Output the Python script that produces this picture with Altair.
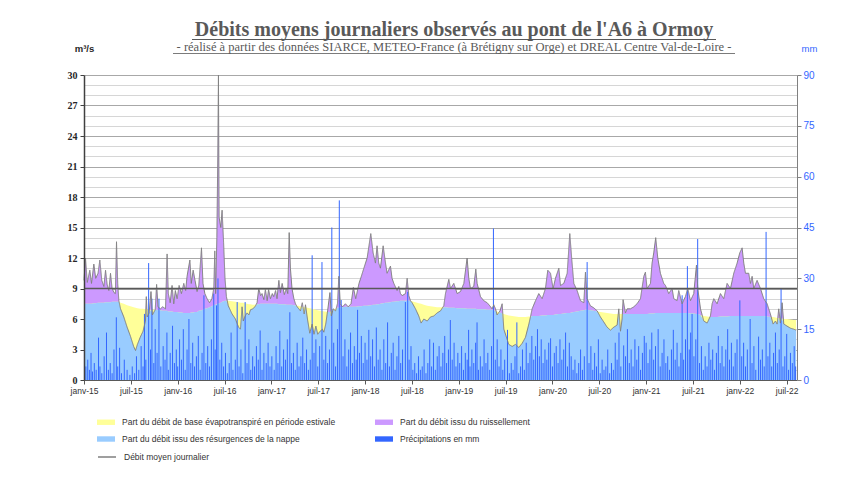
import altair as alt
import pandas as pd

# ---------------- data ----------------
# time as decimal year, flow in m3/s
T = [
    2015.000, 2015.016, 2015.035, 2015.062, 2015.080, 2015.105, 2015.125, 2015.150, 2015.169, 2015.190,
    2015.212, 2015.230, 2015.247, 2015.265, 2015.283, 2015.300, 2015.320, 2015.335, 2015.347, 2015.360,
    2015.372, 2015.390, 2015.425, 2015.460, 2015.496, 2015.530, 2015.550, 2015.570, 2015.600, 2015.630,
    2015.656, 2015.665, 2015.675, 2015.695, 2015.715, 2015.730, 2015.760, 2015.775, 2015.790, 2015.815,
    2015.840, 2015.870, 2015.887, 2015.900, 2015.920, 2015.940, 2015.958, 2015.975, 2015.994,
    2016.015, 2016.040, 2016.065, 2016.085, 2016.100, 2016.130, 2016.145, 2016.165, 2016.185, 2016.207,
    2016.225, 2016.254, 2016.270, 2016.290, 2016.314, 2016.340, 2016.365, 2016.385, 2016.396, 2016.405,
    2016.418, 2016.428, 2016.435, 2016.442, 2016.460, 2016.474, 2016.490, 2016.505, 2016.520, 2016.540,
    2016.580, 2016.616, 2016.650, 2016.670, 2016.687, 2016.700, 2016.720, 2016.740, 2016.760, 2016.776,
    2016.800, 2016.825, 2016.847, 2016.865, 2016.885, 2016.900, 2016.920, 2016.936, 2016.955, 2016.970,
    2016.990,
    2017.010, 2017.025, 2017.045, 2017.060, 2017.080, 2017.096, 2017.115, 2017.138, 2017.160, 2017.175,
    2017.190, 2017.203, 2017.220, 2017.240, 2017.257, 2017.275, 2017.293, 2017.310, 2017.330, 2017.350,
    2017.364, 2017.385, 2017.410, 2017.435, 2017.455, 2017.475, 2017.495, 2017.520, 2017.545, 2017.560,
    2017.580, 2017.600, 2017.625, 2017.640, 2017.660, 2017.685, 2017.705, 2017.720, 2017.735, 2017.760,
    2017.790, 2017.820, 2017.850, 2017.875, 2017.900, 2017.935, 2017.960, 2017.987,
    2018.022, 2018.061, 2018.086, 2018.111, 2018.128, 2018.146, 2018.164, 2018.193, 2018.218, 2018.235,
    2018.271, 2018.288, 2018.307, 2018.342, 2018.360, 2018.378, 2018.396, 2018.431, 2018.449, 2018.467,
    2018.484, 2018.502, 2018.538, 2018.573, 2018.598, 2018.627, 2018.663, 2018.698, 2018.734, 2018.769,
    2018.805, 2018.840, 2018.858, 2018.894, 2018.912, 2018.947, 2018.983,
    2019.018, 2019.054, 2019.089, 2019.107, 2019.125, 2019.160, 2019.182, 2019.196, 2019.232, 2019.267,
    2019.303, 2019.331, 2019.356, 2019.374, 2019.392, 2019.409, 2019.440, 2019.463, 2019.481, 2019.516,
    2019.534, 2019.570, 2019.605, 2019.641, 2019.676, 2019.712, 2019.748, 2019.765, 2019.783, 2019.819,
    2019.854, 2019.890, 2019.925, 2019.950, 2019.979,
    2020.007, 2020.032, 2020.068, 2020.086, 2020.121, 2020.157, 2020.185, 2020.205, 2020.228, 2020.263,
    2020.299, 2020.335, 2020.352, 2020.370, 2020.405, 2020.441, 2020.477, 2020.512, 2020.548, 2020.583,
    2020.619, 2020.655, 2020.690, 2020.708, 2020.726, 2020.743, 2020.754, 2020.779, 2020.797, 2020.832,
    2020.868, 2020.903, 2020.939, 2020.975, 2020.992,
    2021.010, 2021.046, 2021.063, 2021.081, 2021.102, 2021.124, 2021.152, 2021.188, 2021.206, 2021.241,
    2021.277, 2021.295, 2021.330, 2021.348, 2021.384, 2021.419, 2021.444, 2021.473, 2021.508, 2021.537,
    2021.551, 2021.580, 2021.615, 2021.651, 2021.686, 2021.704, 2021.722, 2021.757, 2021.793, 2021.828,
    2021.864, 2021.900, 2021.935, 2021.971, 2021.999,
    2022.024, 2022.042, 2022.060, 2022.095, 2022.113, 2022.131, 2022.149, 2022.184, 2022.220, 2022.255,
    2022.291, 2022.326, 2022.355, 2022.380, 2022.398, 2022.415, 2022.433, 2022.451, 2022.469, 2022.504,
    2022.540, 2022.575, 2022.600,
]

# daily mean flow (grey line), m3/s
Q = [
    9.8, 12.0, 9.6, 10.8, 9.5, 11.4, 10.0, 10.5, 11.8, 9.8,
    9.2, 10.8, 9.4, 8.8, 10.5, 9.0, 8.6, 8.5, 13.6, 9.5,
    7.8, 7.0, 6.2, 5.2, 4.3, 3.3, 2.9, 3.5, 4.2, 4.8,
    5.8, 8.2, 6.2, 6.6, 8.7, 6.4, 6.9, 9.4, 7.2, 7.0,
    7.2, 7.0, 12.4, 8.5, 7.6, 9.3, 7.5, 8.8, 8.0,
    9.3, 8.5, 9.5, 8.8, 10.2, 11.8, 9.5, 10.8, 9.8, 8.7,
    9.3, 13.0, 9.5, 8.5, 8.0, 7.6, 8.0, 9.0, 12.7, 8.5,
    14.0, 22.0, 30.0, 16.0, 15.0, 16.7, 13.5, 10.0, 8.2, 7.3,
    6.5, 6.0, 5.2, 5.0, 7.2, 5.8, 6.3, 6.6, 6.4, 6.9,
    7.0, 7.2, 7.6, 9.0, 8.3, 8.5, 7.9, 8.9, 7.8, 8.9,
    8.0,
    8.5, 8.2, 8.8, 8.0, 9.8, 8.6, 9.5, 8.4, 9.0, 8.5,
    14.5, 11.0, 9.0, 8.0, 7.5, 7.2, 7.0, 6.8, 7.6, 6.5,
    7.4, 6.0, 4.6, 5.5, 4.5, 5.3, 4.5, 4.8, 5.0, 4.7,
    5.5, 6.8, 8.6, 6.3, 7.0, 6.8, 7.5, 10.2, 7.5, 7.2,
    7.5, 7.2, 7.5, 9.1, 8.0, 9.5, 10.2, 11.0,
    12.0, 14.4, 12.5, 11.5, 13.2, 11.5, 11.0, 13.2, 11.5, 10.5,
    11.2, 10.0, 9.5, 8.8, 9.2, 8.5, 8.3, 8.5, 10.0, 8.3,
    7.8, 7.6, 7.0, 6.3, 5.6, 6.0, 5.8, 6.2, 6.3, 6.6,
    6.8, 7.3, 8.5, 9.9, 9.0, 9.5, 8.5,
    8.7, 9.5, 12.0, 10.0, 9.0, 9.2, 10.9, 9.5, 8.2, 7.8,
    7.6, 7.3, 7.0, 7.4, 7.0, 6.4, 6.8, 7.5, 5.0, 4.0,
    3.5, 3.3, 3.5, 3.2, 3.6, 4.2, 5.5, 6.2, 7.0, 7.8,
    8.5, 8.0, 9.0, 10.8, 10.5,
    9.0, 10.0, 11.0, 9.3, 9.5, 10.5, 14.4, 12.0, 9.5, 8.8,
    7.8, 7.6, 10.6, 8.0, 7.3, 7.1, 6.8, 6.2, 5.7, 5.2,
    4.9, 5.2, 5.4, 7.0, 4.8, 6.0, 7.9, 6.6, 7.0, 7.0,
    7.2, 7.5, 8.0, 10.2, 10.6,
    9.0, 9.5, 11.5, 12.5, 14.0, 12.0, 10.5, 9.5, 9.3, 8.5,
    9.0, 8.0, 7.8, 8.8, 7.5, 8.2, 9.0, 7.8, 8.5, 11.3,
    9.0, 7.0, 5.8, 5.6, 6.3, 7.5, 8.0, 7.5, 8.5, 8.0,
    9.5, 9.0, 10.5, 11.5, 12.5,
    13.0, 11.5, 10.5, 10.5, 9.5, 10.2, 9.0, 9.8, 9.0, 8.0,
    7.5, 6.5, 5.5, 5.8, 5.5, 7.0, 5.6, 7.6, 5.5, 5.3,
    5.1, 5.0, 4.9,
]

# base flow from the water table (top of blue / yellow), m3/s
B = [
    7.5, 7.5, 7.5, 7.5, 7.5, 7.55, 7.55, 7.6, 7.6, 7.6,
    7.6, 7.65, 7.65, 7.65, 7.65, 7.7, 7.7, 7.7, 7.7, 7.7,
    7.7, 7.6, 7.5, 7.35, 7.25, 7.15, 7.1, 7.05, 7.0, 7.0,
    6.95, 6.95, 6.95, 6.9, 6.9, 6.9, 6.9, 6.9, 6.85, 6.85,
    6.8, 6.8, 6.8, 6.75, 6.75, 6.75, 6.7, 6.7, 6.7,
    6.65, 6.65, 6.6, 6.6, 6.6, 6.6, 6.65, 6.65, 6.7, 6.7,
    6.8, 6.85, 6.9, 7.0, 7.05, 7.15, 7.25, 7.35, 7.4, 7.4,
    7.45, 7.5, 7.5, 7.55, 7.6, 7.7, 7.75, 7.8, 7.8, 7.8,
    7.75, 7.7, 7.65, 7.6, 7.6, 7.6, 7.55, 7.5, 7.45, 7.45,
    7.4, 7.4, 7.45, 7.45, 7.5, 7.5, 7.5, 7.5, 7.5, 7.5,
    7.5,
    7.5, 7.5, 7.5, 7.5, 7.45, 7.45, 7.45, 7.45, 7.4, 7.4,
    7.4, 7.4, 7.4, 7.35, 7.35, 7.3, 7.3, 7.25, 7.2, 7.15,
    7.15, 7.1, 7.05, 7.0, 6.95, 6.9, 6.85, 6.8, 6.8, 6.75,
    6.75, 6.7, 6.7, 6.8, 6.9, 7.0, 7.1, 7.1, 7.15, 7.15,
    7.2, 7.2, 7.2, 7.2, 7.2, 7.25, 7.25, 7.3,
    7.3, 7.35, 7.4, 7.4, 7.45, 7.45, 7.5, 7.55, 7.6, 7.6,
    7.65, 7.7, 7.7, 7.75, 7.75, 7.8, 7.8, 7.8, 7.8, 7.8,
    7.8, 7.75, 7.65, 7.55, 7.5, 7.4, 7.3, 7.25, 7.2, 7.15,
    7.15, 7.15, 7.15, 7.1, 7.1, 7.1, 7.05,
    7.05, 7.05, 7.0, 7.0, 7.0, 7.0, 7.0, 6.95, 6.95, 6.95,
    6.9, 6.9, 6.9, 6.85, 6.8, 6.75, 6.65, 6.55, 6.5, 6.4,
    6.35, 6.3, 6.25, 6.2, 6.2, 6.2, 6.25, 6.25, 6.3, 6.3,
    6.3, 6.35, 6.35, 6.4, 6.4,
    6.4, 6.45, 6.5, 6.5, 6.55, 6.6, 6.6, 6.65, 6.7, 6.75,
    6.8, 6.85, 6.9, 6.9, 6.85, 6.8, 6.75, 6.7, 6.65, 6.6,
    6.55, 6.5, 6.5, 6.5, 6.5, 6.5, 6.5, 6.5, 6.5, 6.5,
    6.5, 6.5, 6.5, 6.5, 6.5,
    6.5, 6.55, 6.55, 6.55, 6.6, 6.6, 6.6, 6.6, 6.6, 6.6,
    6.6, 6.6, 6.6, 6.6, 6.6, 6.6, 6.6, 6.55, 6.55, 6.5,
    6.5, 6.4, 6.3, 6.25, 6.2, 6.2, 6.2, 6.2, 6.25, 6.25,
    6.25, 6.3, 6.3, 6.3, 6.3,
    6.3, 6.3, 6.3, 6.3, 6.3, 6.3, 6.3, 6.3, 6.3, 6.3,
    6.25, 6.2, 6.2, 6.15, 6.1, 6.1, 6.05, 6.05, 6.0, 6.0,
    5.95, 5.9, 5.9,
]

# daily rainfall (mm) at Brétigny: date as decimal year
PT = [
    2015.005, 2015.020, 2015.040, 2015.058, 2015.075, 2015.090, 2015.110, 2015.130, 2015.155, 2015.170,
    2015.190, 2015.215, 2015.240, 2015.260, 2015.280, 2015.300, 2015.320, 2015.345, 2015.360, 2015.380,
    2015.400, 2015.430, 2015.460, 2015.490, 2015.515, 2015.540, 2015.560, 2015.585, 2015.610, 2015.630,
    2015.645, 2015.660, 2015.690, 2015.710, 2015.725, 2015.745, 2015.760, 2015.780, 2015.800, 2015.820,
    2015.845, 2015.865, 2015.885, 2015.900, 2015.920, 2015.945, 2015.965, 2015.985,
    2016.000, 2016.020, 2016.040, 2016.060, 2016.080, 2016.100, 2016.120, 2016.140, 2016.160, 2016.180,
    2016.200, 2016.220, 2016.240, 2016.260, 2016.280, 2016.300, 2016.320, 2016.340, 2016.360, 2016.385,
    2016.400, 2016.415, 2016.430, 2016.450, 2016.470, 2016.490, 2016.510, 2016.530, 2016.550, 2016.570,
    2016.590, 2016.615, 2016.635, 2016.655, 2016.675, 2016.695, 2016.720, 2016.740, 2016.760, 2016.780,
    2016.800, 2016.820, 2016.840, 2016.860, 2016.880, 2016.900, 2016.920, 2016.945, 2016.965, 2016.985,
    2017.005, 2017.030, 2017.050, 2017.070, 2017.090, 2017.110, 2017.130, 2017.150, 2017.170, 2017.197,
    2017.215, 2017.235, 2017.255, 2017.275, 2017.295, 2017.315, 2017.335, 2017.355, 2017.375, 2017.395,
    2017.415, 2017.435, 2017.455, 2017.475, 2017.495, 2017.515, 2017.540, 2017.560, 2017.580, 2017.600,
    2017.620, 2017.645, 2017.665, 2017.685, 2017.705, 2017.725, 2017.745, 2017.765, 2017.785, 2017.805,
    2017.825, 2017.845, 2017.865, 2017.885, 2017.905, 2017.920, 2017.940, 2017.960, 2017.980,
    2018.000, 2018.020, 2018.040, 2018.060, 2018.080, 2018.100, 2018.120, 2018.140, 2018.160, 2018.180,
    2018.200, 2018.220, 2018.240, 2018.260, 2018.280, 2018.300, 2018.320, 2018.340, 2018.360, 2018.380,
    2018.400, 2018.430, 2018.455, 2018.470, 2018.490, 2018.510, 2018.530, 2018.550, 2018.570, 2018.590,
    2018.610, 2018.630, 2018.650, 2018.670, 2018.690, 2018.710, 2018.730, 2018.750, 2018.770, 2018.790,
    2018.810, 2018.830, 2018.850, 2018.870, 2018.890, 2018.910, 2018.930, 2018.950, 2018.970, 2018.990,
    2019.010, 2019.030, 2019.050, 2019.070, 2019.090, 2019.105, 2019.120, 2019.140, 2019.160, 2019.180,
    2019.195, 2019.210, 2019.230, 2019.250, 2019.270, 2019.290, 2019.310, 2019.330, 2019.350, 2019.370,
    2019.390, 2019.410, 2019.430, 2019.450, 2019.470, 2019.490, 2019.520, 2019.540, 2019.560, 2019.580,
    2019.600, 2019.620, 2019.640, 2019.660, 2019.680, 2019.700, 2019.720, 2019.740, 2019.760, 2019.780,
    2019.800, 2019.820, 2019.840, 2019.860, 2019.880, 2019.900, 2019.920, 2019.940, 2019.960, 2019.980,
    2020.000, 2020.020, 2020.040, 2020.060, 2020.080, 2020.100, 2020.120, 2020.140, 2020.160, 2020.180,
    2020.200, 2020.220, 2020.240, 2020.260, 2020.280, 2020.300, 2020.320, 2020.340, 2020.370, 2020.390,
    2020.410, 2020.430, 2020.450, 2020.470, 2020.490, 2020.510, 2020.530, 2020.550, 2020.570, 2020.590,
    2020.610, 2020.630, 2020.650, 2020.670, 2020.690, 2020.710, 2020.730, 2020.760, 2020.780, 2020.800,
    2020.820, 2020.840, 2020.860, 2020.880, 2020.900, 2020.920, 2020.940, 2020.960, 2020.980,
    2021.000, 2021.020, 2021.040, 2021.060, 2021.080, 2021.100, 2021.128, 2021.150, 2021.170, 2021.190,
    2021.210, 2021.230, 2021.250, 2021.270, 2021.290, 2021.310, 2021.330, 2021.350, 2021.370, 2021.384,
    2021.400, 2021.420, 2021.440, 2021.460, 2021.475, 2021.490, 2021.510, 2021.530, 2021.550, 2021.570,
    2021.590, 2021.610, 2021.630, 2021.650, 2021.670, 2021.690, 2021.710, 2021.730, 2021.750, 2021.770,
    2021.790, 2021.810, 2021.830, 2021.850, 2021.870, 2021.890, 2021.910, 2021.930, 2021.950, 2021.970,
    2022.000, 2022.020, 2022.040, 2022.060, 2022.080, 2022.110, 2022.130, 2022.150, 2022.170, 2022.200,
    2022.220, 2022.240, 2022.260, 2022.280, 2022.300, 2022.320, 2022.340, 2022.360, 2022.380, 2022.400,
    2022.420, 2022.440, 2022.460, 2022.480, 2022.500, 2022.520, 2022.540, 2022.560, 2022.580, 2022.595,
]
PV = [
    11.5, 4, 6, 3, 8, 2.5, 5, 3, 12.5, 4,
    2, 7, 14, 3, 5, 2, 9, 18.5, 4, 9.5,
    2, 6, 3, 1.5, 4, 2, 7, 3, 10, 4,
    19.5, 6, 34.5, 9, 24, 5, 15, 8, 24, 4,
    10, 6, 14, 3, 8, 16, 5, 9,
    4, 12, 6, 15, 3, 9, 18, 5, 11, 4,
    7, 13, 3, 8, 25, 5, 10, 4, 12, 25.5,
    9, 22, 30, 6, 11, 4, 8, 2, 5, 14,
    3, 6, 23, 4, 9, 2, 23, 5, 12, 3,
    7, 4, 10, 6, 14.6, 3, 8, 5, 11, 4,
    7, 3, 10, 5, 14.5, 4, 9, 6, 12, 20,
    5, 8, 3, 11, 4, 7, 12.5, 5, 9, 3,
    6, 36.8, 8, 12, 4, 10, 34.8, 6, 13, 5,
    9, 45, 11, 4, 15, 53, 23.6, 7, 12, 4,
    9, 14, 5, 10, 6, 20.7, 8, 13, 5,
    11, 6, 14.8, 7, 12, 4, 15.5, 6, 9, 3,
    12, 5, 17, 4, 8, 11, 3, 7, 13, 5,
    9, 23, 26, 6, 10, 3, 5, 2, 7, 3,
    4, 9, 2, 5, 12, 4, 11, 3, 7, 10,
    4, 8, 13, 5, 9, 17.7, 6, 11, 4, 8,
    5, 10, 3, 8, 6, 14.8, 4, 9, 5, 11,
    17, 3, 7, 4, 12, 5, 8, 3, 10, 44.7,
    6, 12, 4, 9, 3, 6, 14.8, 2, 5, 3,
    7, 17, 2, 4, 9, 3, 11, 5, 8, 13,
    6, 10, 15, 7, 12, 5, 9, 6, 11, 12.3,
    4, 8, 10, 5, 12, 6, 9, 14, 4, 11,
    7, 3, 6, 2, 5, 9, 3, 7, 34.8, 5,
    10, 3, 8, 4, 12, 2, 6, 3, 4, 9,
    2, 5, 3, 11, 6, 14, 4, 10.2, 7, 15,
    5, 9, 4, 12, 6, 10, 3, 8, 13,
    11, 5, 9, 14, 6, 10, 15, 4, 8, 12,
    5, 7, 3, 9, 14.8, 6, 11, 4, 8, 25,
    6, 12, 33.6, 9, 14, 19.5, 7, 12, 41.6, 5,
    10, 3, 7, 4, 11, 6, 9, 3, 8, 13,
    5, 10, 4, 9, 15, 6, 11, 4, 8, 12,
    23.5, 7, 11, 4, 9, 18, 5, 10, 3, 12.8,
    6, 9, 4, 43.7, 7, 11, 4, 8, 14, 5,
    9, 27, 4, 7, 13.6, 3, 8, 5, 10, 4,
]

XTICKS = [2015.0, 2015.5, 2016.0, 2016.5, 2017.0, 2017.5, 2018.0, 2018.5,
          2019.0, 2019.5, 2020.0, 2020.5, 2021.0, 2021.5, 2022.0, 2022.5]
YTICKS = [0, 3, 6, 9, 12, 15, 18, 21, 24, 27, 30]
YGRID = list(range(0, 31))
MMTICKS = [0, 15, 30, 45, 60, 75, 90]
THRESHOLD = [9]

TITLE = "Débits moyens journaliers observés au pont de l'A6 à Ormoy"
SUBTITLE = ("- réalisé à partir des données SIARCE, METEO-France (à Brétigny sur Orge) "
            "et DREAL Centre Val-de-Loire -")
NAMES = ["Part du débit de base évapotranspiré en période estivale",
         "Part du débit issu du ruissellement",
         "Part du débit issu des résurgences de la nappe",
         "Précipitations en mm"]
COLORS = ["#FFFF99", "#CC99FF", "#99CCFF", "#3366FF"]
# legend entries are laid out column by column: left column first
LEGEND_ORDER = [NAMES[0], NAMES[2], NAMES[1], NAMES[3]]
LINE_NAME = "Débit moyen journalier"

assert len(T) == len(Q) == len(B)
assert len(PT) == len(PV)

# ---------------- styles ----------------
YELLOW, PURPLE, LBLUE, RBLUE = COLORS
GREY = "#808080"
SANS = "Liberation Sans, Arial, sans-serif"
NARROW = "Liberation Sans Narrow, Arial Narrow, Liberation Sans, sans-serif"
SERIF = "Liberation Serif, Times New Roman, serif"

flow = pd.DataFrame({"t": T, "q": Q, "b": B})
rain = pd.DataFrame({"t": PT, "mm": PV})
thr = pd.DataFrame({"v": THRESHOLD})
one = pd.DataFrame({"k": [0]})

X = alt.X("t:Q",
          scale=alt.Scale(domain=[2015.0, 2022.61], nice=False, zero=False),
          axis=alt.Axis(values=XTICKS,
                        labelExpr="(datum.value % 1 == 0 ? 'janv-' : 'juil-') + format(floor(datum.value) - 2000, '02d')",
                        grid=False, domainColor="#595959", domainWidth=1,
                        tickColor="#595959", tickSize=4, labelFont=SANS, labelFontSize=8.5,
                        labelColor="#333333", labelPadding=2, title=None, zindex=1,
                        labelFlush=False, labelOverlap=False))

yscale = alt.Scale(domain=[0, 30], nice=False, zero=True)
grid_axis = alt.Axis(orient="left", values=YGRID, grid=True,
                     gridColor={"condition": {"test": "datum.value % 3 === 0", "value": "#A8A8A8"},
                                "value": "#D6D6D6"},
                     gridWidth=1, labels=False, ticks=False, domain=False, title=None)
label_axis = alt.Axis(orient="left", values=YTICKS, grid=False, labelFont=SERIF,
                      labelFontWeight="bold", labelFontSize=10, labelColor="#262626",
                      labelPadding=3, tickSize=4, tickColor="#404040", domainColor="#404040",
                      domainWidth=1.5, title="m³/s", titleAngle=0, titleX=0, titleY=-24,
                      titleAlign="center", titleBaseline="alphabetic", titleFont=SANS,
                      titleFontSize=9.5, titleFontWeight="bold", titleColor="#262626", zindex=1)

color_legend = alt.Legend(title=None, orient="none", legendX=13, legendY=338, columns=2,
                          columnPadding=39, rowPadding=3, values=LEGEND_ORDER,
                          symbolType="M-1,-0.3H1V0.3H-1Z",
                          symbolSize=324, symbolStrokeWidth=0, labelFont=NARROW,
                          labelFontSize=8.5, labelColor="#333333", labelOffset=7,
                          labelLimit=400, padding=0)
line_legend = alt.Legend(title=None, orient="none", legendX=13, legendY=372,
                         symbolType="stroke", symbolSize=324, symbolStrokeWidth=1.5,
                         symbolStrokeColor=GREY, labelFont=NARROW, labelFontSize=8.5,
                         labelColor="#333333", labelOffset=7, padding=0)

# ---------------- layers ----------------
purple = alt.Chart(flow).mark_area(color=PURPLE).encode(
    x=X, y=alt.Y("q:Q", scale=yscale, axis=grid_axis))
yellow = alt.Chart(flow).mark_area().transform_calculate(serie=f"'{NAMES[0]}'").encode(
    x=X, y=alt.Y("b:Q", scale=yscale, axis=grid_axis),
    color=alt.Color("serie:N", sort=LEGEND_ORDER,
                    scale=alt.Scale(domain=NAMES, range=COLORS),
                    legend=color_legend))
blue = alt.Chart(flow).mark_area(color=LBLUE).transform_calculate(
    low="min(datum.q, datum.b)").encode(
    x=X, y=alt.Y("low:Q", scale=yscale, axis=grid_axis))
areas = alt.layer(purple, yellow, blue)

bars = alt.Chart(rain).mark_rule(color=RBLUE, strokeWidth=1).encode(
    x=X,
    y=alt.Y("mm:Q", scale=alt.Scale(domain=[0, 90], nice=False),
            axis=alt.Axis(orient="right", values=MMTICKS, grid=False, labelFont=SANS,
                          labelFontSize=10, labelColor=RBLUE, tickSize=4, tickColor="#808080",
                          domainColor="#808080", title="mm", titleAngle=0, titleX=12,
                          titleY=-24, titleAlign="center", titleBaseline="alphabetic",
                          titleColor=RBLUE, titleFont=SANS, titleFontSize=9.5,
                          titleFontWeight="normal", zindex=1)),
    y2=alt.datum(0))

line = alt.Chart(flow).mark_line(color=GREY, strokeWidth=1).transform_calculate(
    lbl=f"'{LINE_NAME}'").encode(
    x=X, y=alt.Y("q:Q", scale=yscale, axis=label_axis),
    strokeDash=alt.StrokeDash("lbl:N", scale=alt.Scale(domain=[LINE_NAME], range=[[1, 0]]),
                              legend=line_legend))
nine = alt.Chart(thr).mark_rule(color="#595959", strokeWidth=1.5).encode(
    y=alt.Y("v:Q", scale=yscale, axis=label_axis))
linegrp = alt.layer(line, nine)

title_txt = alt.Chart(one).mark_text(
    text=TITLE, font=SERIF, fontSize=20, fontWeight="bold", color="#595959",
    align="center", baseline="alphabetic").encode(x=alt.value(370), y=alt.value(-39))
sub_txt = alt.Chart(one).mark_text(
    text=SUBTITLE, font=SERIF, fontSize=12.5, color="#595959",
    align="center", baseline="alphabetic").encode(x=alt.value(370), y=alt.value(-24))
title_ul = alt.Chart(one).mark_rule(color="#595959", strokeWidth=1).encode(
    x=alt.value(108), x2=alt.value(632), y=alt.value(-35.5))
sub_ul = alt.Chart(one).mark_rule(color="#595959", strokeWidth=0.8).encode(
    x=alt.value(89), x2=alt.value(651), y=alt.value(-21.5))

chart = alt.layer(areas, bars, linegrp, title_txt, sub_txt, title_ul, sub_ul).resolve_scale(
    y="independent"
).properties(
    width=713, height=305,
    padding={"left": 76, "top": 67, "right": 46, "bottom": 91},
    autosize=alt.AutoSizeParams(type="none"),
    background="white",
).configure_view(stroke=None)

chart.save("out.html", embed_options={"renderer": "svg", "actions": False})
